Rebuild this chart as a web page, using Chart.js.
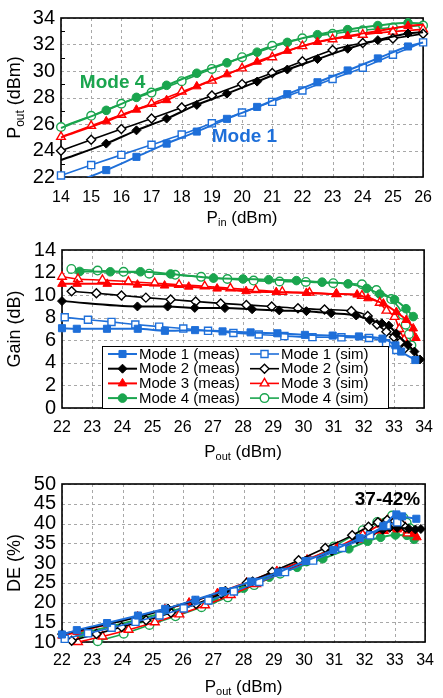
<!DOCTYPE html>
<html>
<head>
<meta charset="utf-8">
<script src="https://cdn.jsdelivr.net/npm/chart.js@4.4.1/dist/chart.umd.min.js"></script>
<style>
  html, body { margin: 0; padding: 0; background: #fff; }
  canvas { display: block; }
</style>
</head>
<body>
<canvas id="poutChart" width="443" height="232"></canvas>
<canvas id="gainChart" width="443" height="234"></canvas>
<canvas id="deChart" width="443" height="232"></canvas>
<script>
/* ----------------------------------------------------------
   Data – top panel: Pout vs Pin
   ---------------------------------------------------------- */
const pinSim  = [14, 15, 16, 17, 18, 19, 20, 21, 22, 23, 24, 25, 26];
const pinMeas = [14, 15.5, 16.5, 17.5, 18.5, 19.5, 20.5, 21.5, 22.5, 23.5, 24.5, 25.5, 26];

const poutPin1Meas = [21.2, 22.52, 23.52, 24.52, 25.43, 26.39, 27.29, 28.25, 29.15, 30.04, 30.95, 31.85, 32.15];
const poutPin1Sim  = [22.12, 22.9, 23.67, 24.43, 25.2, 26.05, 26.86, 27.67, 28.53, 29.4, 30.25, 31.23, 32.16];
const poutPin2Meas = [23.28, 24.52, 25.52, 26.41, 27.44, 28.29, 29.2, 30.11, 30.9, 31.68, 32.33, 32.83, 32.93];
const poutPin2Sim  = [23.98, 24.81, 25.62, 26.41, 27.24, 28.15, 29.01, 29.85, 30.73, 31.59, 32.11, 32.45, 32.81];
const poutPin3Meas = [24.98, 26.2, 27.08, 27.8, 28.84, 29.75, 30.7, 31.52, 32.19, 32.64, 33.02, 33.4, 33.5];
const poutPin3Sim  = [25.03, 25.86, 26.7, 27.53, 28.44, 29.27, 30.2, 31.04, 31.88, 32.4, 32.74, 32.97, 33.14];
const poutPin4Meas = [25.7, 27.03, 28.01, 28.92, 29.83, 30.62, 31.42, 32.16, 32.74, 33.12, 33.43, 33.64, 33.57];
const poutPin4Sim  = [25.77, 26.62, 27.53, 28.37, 29.23, 30.16, 31.04, 31.9, 32.47, 32.81, 33.07, 33.28, 33.43];

/* ----------------------------------------------------------
   Data – middle / bottom panels: Gain and DE vs Pout
   ---------------------------------------------------------- */
const pout1Meas = [22.0, 22.49, 23.49, 24.51, 25.41, 26.41, 27.32, 28.25, 29.14, 30.05, 30.97, 31.84, 32.62, 33.05, 33.24, 33.71];
const gain1Meas = [7.07, 7.02, 7.02, 7.02, 6.84, 6.9, 6.79, 6.7, 6.62, 6.48, 6.42, 6.34, 6.15, 5.55, 5.0, 4.25];
const de1Meas   = [11.9, 13.0, 14.8, 16.7, 18.4, 20.7, 22.9, 25.3, 27.6, 30.5, 33.3, 36.3, 39.3, 42.3, 41.8, 41.2];

const pout1Sim = [22.09, 22.86, 23.64, 24.43, 25.22, 26.02, 26.84, 27.68, 28.52, 29.37, 30.3, 31.26, 32.18, 32.74, 33.08];
const gain1Sim = [8.04, 7.82, 7.63, 7.4, 7.21, 7.04, 6.84, 6.65, 6.51, 6.37, 6.28, 6.26, 6.2, 5.73, 5.14];
const de1Sim   = [10.8, 12.2, 13.6, 15.1, 16.7, 18.5, 20.5, 22.8, 25.2, 27.7, 30.6, 33.8, 37.0, 39.5, 40.3];

const pout2Meas = [22.0, 24.5, 25.5, 26.4, 27.4, 28.3, 29.2, 30.1, 30.92, 31.75, 32.2, 32.6, 32.83, 33.08, 33.46, 33.68, 33.86];
const gain2Meas = [9.47, 9.0, 8.99, 8.87, 8.85, 8.75, 8.65, 8.58, 8.4, 8.2, 7.8, 7.5, 7.3, 6.6, 5.6, 5.0, 4.3];
const de2Meas   = [12.0, 16.3, 18.5, 20.5, 23.0, 25.4, 27.9, 30.6, 33.0, 35.9, 37.3, 38.4, 38.9, 38.9, 38.7, 38.5, 38.6];

const pout2Sim = [22.32, 23.14, 23.97, 24.78, 25.6, 26.43, 27.26, 28.11, 28.95, 29.82, 30.7, 31.59, 32.13, 32.44, 32.75, 33.0, 33.2, 33.35];
const gain2Sim = [10.34, 10.17, 9.97, 9.78, 9.61, 9.44, 9.27, 9.13, 8.99, 8.83, 8.72, 8.6, 8.16, 7.4, 6.76, 6.3, 5.8, 5.25];
const de2Sim   = [10.3, 12.0, 13.8, 15.5, 17.4, 19.6, 22.2, 25.0, 27.8, 30.7, 33.8, 37.0, 39.2, 40.3, 40.9, 40.6, 40.0, 39.0];

const pout3Meas = [22.0, 22.5, 23.5, 24.5, 25.4, 26.2, 27.14, 28.1, 29.1, 30.1, 31.08, 31.78, 32.14, 32.65, 33.08, 33.41, 33.64, 33.73];
const gain3Meas = [11.0, 11.0, 11.0, 10.93, 10.85, 10.75, 10.58, 10.35, 10.27, 10.2, 10.1, 10.05, 9.72, 9.25, 8.5, 7.8, 7.05, 6.2];
const de3Meas   = [11.6, 12.5, 14.5, 16.5, 18.3, 20.0, 22.4, 25.1, 28.0, 30.9, 33.8, 35.9, 37.0, 38.1, 38.5, 38.2, 37.4, 36.5];

const pout3Sim = [22.0, 22.53, 23.34, 24.2, 25.07, 25.88, 26.73, 27.58, 28.42, 29.3, 30.2, 31.1, 31.94, 32.53, 32.75, 33.02, 33.18, 33.34, 33.42];
const gain3Sim = [11.63, 11.43, 11.34, 11.2, 11.06, 10.92, 10.79, 10.6, 10.45, 10.3, 10.22, 10.1, 9.95, 9.33, 8.63, 8.07, 7.0, 6.05, 5.6];
const de3Sim   = [null, 10.0, 11.4, 13.1, 15.0, 17.0, 19.3, 21.9, 24.7, 27.6, 30.7, 34.0, 37.2, 39.8, 40.8, 41.2, 40.5, 39.0, 37.5];

const pout4Meas = [22.59, 23.6, 24.6, 25.6, 27.02, 28.0, 28.85, 29.77, 30.62, 31.48, 32.1, 32.53, 33.02, 33.4, 33.64];
const gain4Meas = [12.1, 12.07, 12.07, 11.88, 11.51, 11.43, 11.37, 11.29, 11.15, 11.0, 10.6, 10.1, 9.6, 8.8, 8.1];
const de4Meas   = [12.1, 13.9, 15.9, 17.8, 20.9, 23.6, 26.4, 28.9, 31.1, 33.6, 35.5, 36.5, 37.1, 37.0, 36.0];

const pout4Sim = [22.31, 23.18, 24.04, 24.89, 25.75, 26.61, 27.48, 28.35, 29.21, 30.08, 30.99, 31.94, 32.42, 32.91, 33.29, 33.39, 33.5, 33.58];
const gain4Sim = [12.32, 12.18, 12.07, 11.9, 11.8, 11.62, 11.43, 11.29, 11.21, 11.17, 11.06, 10.96, 10.45, 9.66, 8.27, 7.38, 6.54, 5.56];
const de4Sim   = [null, 10.2, 12.1, 14.3, 16.5, 18.8, 21.3, 24.4, 27.3, 30.4, 34.2, 38.3, 40.4, 42.0, 41.4, 40.2, 38.8, 37.3];

/* ----------------------------------------------------------
   Styling
   ---------------------------------------------------------- */
const COLORS  = { m1: '#1e6fd9', m2: '#000000', m3: '#ff0000', m4: '#1aa54e' };
const MARKERS = { m1: 'rect', m2: 'rectRot', m3: 'triangle', m4: 'circle' };
const RADIUS  = { rect: 5, rectRot: 4.5, triangle: 5, circle: 4.3 };
const FONT = "Arial, 'Liberation Sans', sans-serif";
const GRID = '#a8a8a8';

function series(label, mode, xs, ys, filled, extra = {}) {
  const style = MARKERS[mode];
  const color = COLORS[mode];
  return {
    label,
    data: xs.map((x, i) => ({ x, y: ys[i] })),
    borderColor: color,
    backgroundColor: color,
    borderWidth: filled ? 2 : 1.6,
    pointStyle: style,
    pointRadius: RADIUS[style],
    pointBorderWidth: filled ? 1 : 1.4,
    pointBackgroundColor: filled ? color : '#fff',
    pointBorderColor: color,
    cubicInterpolationMode: 'monotone',
    spanGaps: false,
    fill: false,
    clip: 8,
    ...extra,
  };
}

// measured curves in the top panel: no marker at the two end samples
function endsHidden(n, r) {
  return (ctx) => (ctx.dataIndex === 0 || ctx.dataIndex === n - 1) ? 0 : r;
}

/* ----------------------------------------------------------
   Text helpers (subscripts in axis titles)
   ---------------------------------------------------------- */
function drawParts(ctx, parts, cx, cy, size, rotate) {
  ctx.save();
  ctx.translate(cx, cy);
  if (rotate) ctx.rotate(-Math.PI / 2);
  ctx.fillStyle = '#000';
  ctx.textBaseline = 'middle';
  ctx.textAlign = 'left';
  const subSize = Math.round(size * 0.66);
  let total = 0;
  const widths = parts.map(([t, sub]) => {
    ctx.font = `${sub ? subSize : size}px ${FONT}`;
    const w = ctx.measureText(t).width;
    total += w;
    return w;
  });
  let x = -total / 2;
  parts.forEach(([t, sub], i) => {
    ctx.font = `${sub ? subSize : size}px ${FONT}`;
    ctx.fillText(t, x, sub ? size * 0.3 : 0);
    x += widths[i];
  });
  ctx.restore();
}

/* ----------------------------------------------------------
   Per-panel decoration: dashed grid, frame, titles, notes, legend
   ---------------------------------------------------------- */
function decorPlugin(cfg) {
  return {
    id: 'decor',
    beforeDatasetsDraw(chart) {
      const { ctx, chartArea: a, scales } = chart;
      ctx.save();
      ctx.strokeStyle = GRID;
      ctx.lineWidth = 1;
      ctx.setLineDash([3, 3]);
      for (let v = cfg.xMin; v <= cfg.xMax; v += 1) {
        const x = Math.round(scales.x.getPixelForValue(v)) + 0.5;
        ctx.beginPath(); ctx.moveTo(x, a.top); ctx.lineTo(x, a.bottom); ctx.stroke();
      }
      for (let v = cfg.yMin; v <= cfg.yMax; v += cfg.yStep) {
        const y = Math.round(scales.y.getPixelForValue(v)) + 0.5;
        ctx.beginPath(); ctx.moveTo(a.left, y); ctx.lineTo(a.right, y); ctx.stroke();
      }
      ctx.setLineDash([]);
      ctx.strokeStyle = '#000';
      ctx.lineWidth = 1.6;
      ctx.strokeRect(a.left, a.top, a.right - a.left, a.bottom - a.top);
      // short inner minor ticks on the left axis
      if (cfg.yMinor) {
        ctx.lineWidth = 1;
        for (let v = cfg.yMin + cfg.yMinor; v < cfg.yMax; v += cfg.yStep) {
          const y = Math.round(scales.y.getPixelForValue(v)) + 0.5;
          ctx.beginPath(); ctx.moveTo(a.left, y); ctx.lineTo(a.left + 4, y); ctx.stroke();
        }
      }
      ctx.restore();
    },
    afterDatasetsDraw(chart) {
      const { ctx, chartArea: a, scales } = chart;
      drawParts(ctx, cfg.xTitle, (a.left + a.right) / 2, a.bottom + cfg.xTitleGap, 17, false);
      drawParts(ctx, cfg.yTitle, 15, (a.top + a.bottom) / 2, 18, true);
      (cfg.notes || []).forEach(n => {
        ctx.save();
        ctx.font = `bold 19px ${FONT}`;
        ctx.fillStyle = n.color;
        ctx.textAlign = n.align || 'center';
        ctx.textBaseline = 'middle';
        ctx.fillText(n.text, scales.x.getPixelForValue(n.x), scales.y.getPixelForValue(n.y));
        ctx.restore();
      });
      if (cfg.legend) drawLegend(chart);
    },
  };
}

function drawLegend(chart) {
  const { ctx, chartArea: a } = chart;
  const box = { left: a.left + 40, top: a.bottom - 62, w: 286, h: 62 };
  ctx.save();
  ctx.fillStyle = '#fff';
  ctx.fillRect(box.left, box.top, box.w, box.h);
  ctx.strokeStyle = '#000';
  ctx.lineWidth = 1;
  ctx.strokeRect(box.left + 0.5, box.top + 0.5, box.w, box.h);
  chart.data.datasets.forEach((ds, i) => {
    const col = i % 2, row = Math.floor(i / 2);
    const x0 = box.left + 6 + col * 142;
    const y = box.top + 8 + row * 14.7;
    ctx.strokeStyle = ds.borderColor;
    ctx.lineWidth = ds.borderWidth;
    ctx.beginPath(); ctx.moveTo(x0, y); ctx.lineTo(x0 + 29, y); ctx.stroke();
    ctx.fillStyle = ds.pointBackgroundColor;
    ctx.strokeStyle = ds.pointBorderColor;
    ctx.lineWidth = ds.pointBorderWidth;
    Chart.helpers.drawPoint(ctx, {
      pointStyle: ds.pointStyle, radius: RADIUS[ds.pointStyle],
      borderWidth: ds.pointBorderWidth, rotation: 0,
    }, x0 + 14.5, y);
    ctx.fillStyle = '#000';
    ctx.font = `15px ${FONT}`;
    ctx.textAlign = 'left';
    ctx.textBaseline = 'middle';
    ctx.fillText(ds.label, x0 + 31, y + 0.5);
  });
  ctx.restore();
}

/* ----------------------------------------------------------
   Chart factory
   ---------------------------------------------------------- */
function buildPanel(canvasId, datasets, cfg) {
  const tickFont = { family: FONT, size: 16 };
  return new Chart(document.getElementById(canvasId), {
    type: 'line',
    data: { datasets },
    options: {
      responsive: false,
      animation: false,
      events: [],
      layout: { padding: { top: 9, right: 11, left: 0, bottom: 0 } },
      plugins: { legend: { display: false }, tooltip: { enabled: false } },
      scales: {
        x: {
          type: 'linear', min: cfg.xMin, max: cfg.xMax,
          ticks: { stepSize: 1, color: '#000', font: tickFont, padding: cfg.xPad, maxRotation: 0, autoSkip: false },
          grid: { display: false, drawTicks: false },
          border: { display: false },
          afterFit: (s) => { s.height = cfg.xHeight; },
        },
        y: {
          type: 'linear', min: cfg.yMin, max: cfg.yMax,
          ticks: { stepSize: cfg.yStep, color: '#000', font: { family: FONT, size: 20 }, padding: 6, autoSkip: false },
          grid: { display: false, drawTicks: false },
          border: { display: false },
          afterFit: (s) => { s.width = cfg.yWidth; },
        },
      },
    },
    plugins: [decorPlugin(cfg)],
  });
}

/* ----------------------------------------------------------
   Panels
   ---------------------------------------------------------- */
const nMeas = pinMeas.length;

buildPanel('poutChart', [
  series('Mode 1 (meas)', 'm1', pinMeas, poutPin1Meas, true, { pointRadius: endsHidden(nMeas, 5), clip: { left: 8, right: 8, top: 8, bottom: 0 } }),
  series('Mode 1 (sim)',  'm1', pinSim,  poutPin1Sim,  false),
  series('Mode 2 (meas)', 'm2', pinMeas, poutPin2Meas, true, { pointRadius: endsHidden(nMeas, 4.5) }),
  series('Mode 2 (sim)',  'm2', pinSim,  poutPin2Sim,  false),
  series('Mode 3 (meas)', 'm3', pinMeas, poutPin3Meas, true, { pointRadius: endsHidden(nMeas, 5) }),
  series('Mode 3 (sim)',  'm3', pinSim,  poutPin3Sim,  false),
  series('Mode 4 (meas)', 'm4', pinMeas, poutPin4Meas, true, { pointRadius: endsHidden(nMeas, 4.3) }),
  series('Mode 4 (sim)',  'm4', pinSim,  poutPin4Sim,  false),
], {
  xMin: 14, xMax: 26, yMin: 22, yMax: 34, yStep: 2, yMinor: 1,
  xHeight: 55, yWidth: 61, xPad: 11, xTitleGap: 41,
  xTitle: [['P'], ['in', true], [' (dBm)']],
  yTitle: [['P'], ['out', true], [' (dBm)']],
  notes: [
    { text: 'Mode 4', x: 15.71, y: 29.14, color: COLORS.m4 },
    { text: 'Mode 1', x: 20.08, y: 25.07, color: COLORS.m1 },
  ],
});

buildPanel('gainChart', [
  series('Mode 1 (meas)', 'm1', pout1Meas, gain1Meas, true),
  series('Mode 1 (sim)',  'm1', pout1Sim,  gain1Sim,  false),
  series('Mode 2 (meas)', 'm2', pout2Meas, gain2Meas, true),
  series('Mode 2 (sim)',  'm2', pout2Sim,  gain2Sim,  false),
  series('Mode 3 (meas)', 'm3', pout3Meas, gain3Meas, true),
  series('Mode 3 (sim)',  'm3', pout3Sim,  gain3Sim,  false),
  series('Mode 4 (meas)', 'm4', pout4Meas, gain4Meas, true),
  series('Mode 4 (sim)',  'm4', pout4Sim,  gain4Sim,  false),
], {
  xMin: 22, xMax: 34, yMin: 0, yMax: 14, yStep: 2,
  xHeight: 58, yWidth: 62, xPad: 10, xTitleGap: 44,
  xTitle: [['P'], ['out', true], [' (dBm)']],
  yTitle: [['Gain (dB)']],
  legend: true,
});

buildPanel('deChart', [
  series('Mode 1 (meas)', 'm1', pout1Meas, de1Meas, true),
  series('Mode 1 (sim)',  'm1', pout1Sim,  de1Sim,  false),
  series('Mode 2 (meas)', 'm2', pout2Meas, de2Meas, true),
  series('Mode 2 (sim)',  'm2', pout2Sim,  de2Sim,  false),
  series('Mode 3 (meas)', 'm3', pout3Meas, de3Meas, true),
  series('Mode 3 (sim)',  'm3', pout3Sim,  de3Sim,  false),
  series('Mode 4 (meas)', 'm4', pout4Meas, de4Meas, true),
  series('Mode 4 (sim)',  'm4', pout4Sim,  de4Sim,  false),
], {
  xMin: 22, xMax: 34, yMin: 10, yMax: 50, yStep: 5,
  xHeight: 56, yWidth: 62, xPad: 9, xTitleGap: 45,
  xTitle: [['P'], ['out', true], [' (dBm)']],
  yTitle: [['DE (%)']],
  notes: [
    { text: '37-42%', x: 33.84, y: 45.9, color: '#000', align: 'right' },
  ],
});
</script>
</body>
</html>
